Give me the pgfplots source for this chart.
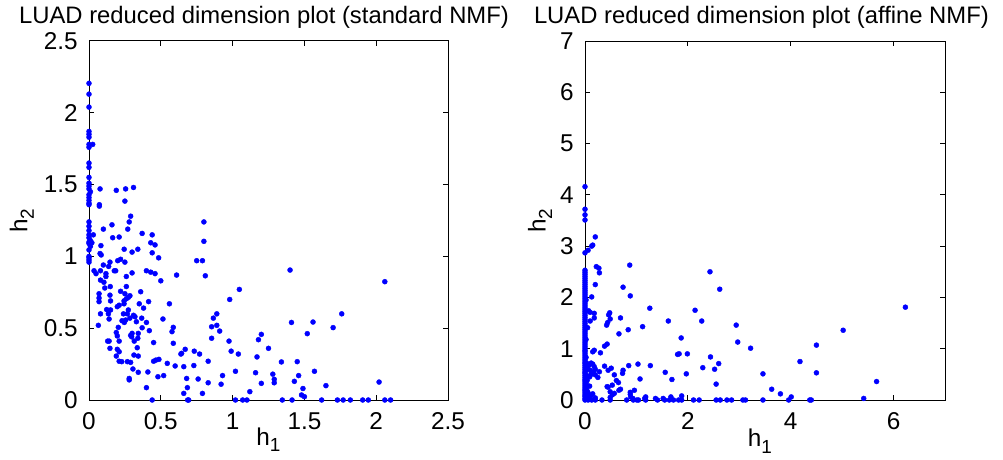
\documentclass[border=0pt]{standalone}
\usepackage{fontspec}
\setmainfont{Liberation Sans}
\usepackage{pgfplots}
\pgfplotsset{compat=1.18}

% Latent-factor coordinates (h1, h2) of the LUAD samples
\begin{document}
\fontsize{24.4}{28}\selectfont
\begin{tikzpicture}
\path[use as bounding box] (0,0) rectangle (1003bp,460bp);
\pgfplotsset{
  nmfaxis/.style={
    scale only axis, anchor=south west,
    tick align=inside, major tick length=5bp,
    axis line style={line width=1bp},
    every tick/.style={black, line width=1bp},
    tick label style={font=\fontsize{24.4}{28}\selectfont},
    /pgf/number format/assume math mode=true,
    xticklabel style={yshift=-4bp},
    yticklabel style={xshift=-3bp},
    label style={font=\fontsize{24.4}{28}\selectfont},
    title style={font=\fontsize{23.9}{28}\selectfont, anchor=center},
    clip=false,
  },
  dots/.style={only marks, mark=*, mark size=2.5bp, blue, mark options={draw=none, fill=blue}},
}
\newcommand{\hsub}[1]{h\raisebox{-0.5ex}{\fontsize{19}{20}\selectfont #1}}

\begin{axis}[nmfaxis, at={(89bp,60bp)}, width=359bp, height=359bp,
  xmin=0, xmax=2.5, ymin=0, ymax=2.5,
  xtick={0,0.5,1,1.5,2,2.5}, ytick={0,0.5,1,1.5,2,2.5},
  title={LUAD reduced dimension plot (standard NMF)},
  title style={at={(axis description cs:0.4875,1.05)}},
  xlabel={\hsub{1}}, ylabel={\hsub{2}},
  xlabel style={at={(axis description cs:0.5,-0.11)}, anchor=center},
  ylabel style={at={(axis description cs:-0.187,0.5)}, anchor=center, rotate=0},
]
\addplot[dots] table {
x y
0 2.205
0 2.13
0 2.04
0 1.87
0 1.85
0 1.83
0 1.78
0.026 1.78
0 1.76
0 1.65
0 1.62
0 1.55
0 1.51
0 1.49
0 1.47
0.01 1.45
0 1.43
0 1.41
0 1.39
0 1.37
0 1.36
0 1.24
0 1.21
0 1.18
0 1.15
0 1.13
0.01 1.11
0 1.10
0 1.09
0.01 1.07
0 1.045
0 1.0
0 0.99
0 0.975
0 0.96
0.077 1.47
0.19 1.46
0.255 1.47
0.31 1.48
0.25 1.385
0.072 1.36
0.072 1.35
0.29 1.28
0.28 1.24
0.16 1.22
0.10 1.19
0.27 1.19
0.03 1.15
0.165 1.13
0.21 1.135
0.37 1.16
0.44 1.15
0.80 1.24
0.80 1.105
0.43 1.095
0.46 1.08
0.083 1.075
0.02 1.095
0.34 1.05
0.245 1.05
0.30 1.03
0.44 1.025
0.077 1.02
0.085 1.01
0.485 0.99
0.75 0.97
0.79 0.97
0.22 0.98
0.20 0.97
0.25 0.96
0.146 0.96
0.10 0.94
0.137 0.93
0.186 0.90
0.176 0.90
0.035 0.90
0.049 0.88
0.08 0.90
0.118 0.88
0.118 0.86
0.30 0.885
0.40 0.90
0.43 0.89
0.46 0.88
0.61 0.87
0.26 0.86
0.81 0.865
0.50 0.83
0.08 0.835
0.104 0.82
0.26 0.79
0.148 0.79
0.11 0.78
0.22 0.757
0.36 0.754
1.047 0.77
0.07 0.74
0.146 0.73
0.25 0.74
0.285 0.726
0.274 0.715
0.26 0.705
0.07 0.71
0.07 0.685
0.15 0.69
0.244 0.69
0.244 0.67
0.98 0.70
0.35 0.67
0.38 0.64
0.415 0.685
0.56 0.67
0.21 0.66
0.197 0.65
0.123 0.63
0.15 0.627
0.135 0.60
0.08 0.60
0.274 0.627
0.267 0.60
0.24 0.60
0.31 0.59
0.89 0.60
0.866 0.57
0.14 0.564
0.32 0.58
0.285 0.57
0.33 0.545
0.23 0.552
0.255 0.557
0.246 0.54
0.515 0.564
0.367 0.57
0.40 0.54
0.065 0.52
0.854 0.51
0.89 0.52
0.204 0.506
0.37 0.503
0.587 0.506
0.578 0.476
0.42 0.483
0.30 0.464
0.29 0.45
0.297 0.44
0.19 0.47
0.197 0.446
0.21 0.41
0.343 0.464
0.34 0.43
0.91 0.48
1.20 0.457
1.18 0.42
0.854 0.43
0.975 0.41
0.13 0.41
0.14 0.41
0.587 0.395
0.45 0.40
0.315 0.41
0.146 0.36
0.197 0.353
0.21 0.336
0.19 0.306
0.336 0.364
0.67 0.353
0.645 0.325
0.64 0.32
0.733 0.34
0.77 0.32
0.99 0.34
1.04 0.32
1.25 0.36
0.313 0.313
0.343 0.306
1.17 0.30
0.466 0.278
0.487 0.283
0.45 0.27
0.21 0.27
0.228 0.267
0.267 0.267
0.29 0.262
0.545 0.255
0.83 0.27
0.60 0.237
0.66 0.232
0.73 0.24
0.306 0.216
0.343 0.193
0.41 0.195
0.52 0.17
0.48 0.162
1.02 0.20
1.16 0.19
1.28 0.18
1.29 0.144
1.29 0.12
0.93 0.17
0.28 0.15
0.28 0.14
0.68 0.15
0.76 0.146
0.83 0.12
0.92 0.11
1.20 0.116
0.40 0.086
0.685 0.086
1.12 0.058
0.66 0.046
0.79 0.046
0.44 0
0.687 0
0.694 0
1.02 0
1.07 0
1.10 0
1.40 0.905
2.06 0.824
1.76 0.60
1.41 0.54
1.56 0.543
1.70 0.504
1.52 0.462
1.34 0.265
1.45 0.267
1.57 0.20
1.46 0.17
1.43 0.13
2.02 0.125
1.65 0.10
1.49 0.08
1.48 0.035
1.50 0.023
1.346 0
1.414 0
1.62 0
1.73 0
1.77 0
1.82 0
1.906 0
1.945 0
2.06 0
2.10 0
};
\end{axis}

\begin{axis}[nmfaxis, at={(585bp,60bp)}, width=360bp, height=359bp,
  xmin=0, xmax=7, ymin=0, ymax=7,
  xtick={0,2,4,6}, ytick={0,1,2,3,4,5,6,7},
  title={LUAD reduced dimension plot (affine NMF)},
  title style={at={(axis description cs:0.49,1.05)}},
  xlabel={\hsub{1}}, ylabel={\hsub{2}},
  xlabel style={at={(axis description cs:0.486,-0.115)}, anchor=center},
  ylabel style={at={(axis description cs:-0.125,0.5)}, anchor=center, rotate=0},
]
\addplot[dots] table {
x y
0 0
0 0.03
0 0.07
0 0.10
0 0.14
0 0.18
0 0.21
0 0.25
0 0.29
0 0.33
0 0.37
0 0.40
0 0.44
0 0.48
0 0.52
0 0.55
0 0.59
0 0.63
0 0.67
0 0.71
0 0.74
0 0.78
0 0.82
0 0.86
0 0.90
0 0.94
0 0.97
0 1.01
0 1.05
0 1.09
0 1.13
0 1.17
0 1.21
0 1.25
0 1.29
0 1.33
0 1.37
0 1.41
0 1.45
0 1.49
0 1.53
0 1.57
0 1.61
0 1.65
0 1.69
0 1.73
0 1.77
0 1.81
0 1.85
0 1.89
0 1.93
0 1.97
0 2.01
0 2.05
0 2.09
0 2.13
0 2.17
0 2.21
0 2.25
0 2.29
0 2.33
0 2.37
0 2.41
0 2.45
0 2.49
0 2.53
0 2.87
0 3.51
0 3.61
0 3.72
0 4.16
0.02 0.12
0.02 0.36
0.02 0.58
0.02 0.83
0.02 1.18
0.02 1.95
0.06 2.92
0.20 3.18
0.15 3.02
0.13 3.00
0.22 2.60
0.27 2.57
0.28 2.48
0.87 2.63
0.20 2.25
0.74 2.20
0.13 2.01
0.88 2.03
2.43 2.50
2.62 2.16
1.26 1.79
2.14 1.75
0.07 1.74
0.10 1.71
0.18 1.69
0.18 1.60
0.10 1.54
0.48 1.70
0.46 1.66
0.49 1.58
0.44 1.51
0.42 1.46
0.69 1.60
1.62 1.54
2.27 1.54
2.94 1.46
1.12 1.43
0.05 1.41
0.84 1.37
0.66 1.29
1.87 1.21
2.97 1.13
0.43 1.09
0.38 1.05
3.22 1.01
0.18 0.97
0.15 0.94
0.30 0.92
1.83 0.90
1.80 0.89
1.99 0.90
2.44 0.84
0.03 0.72
0.12 0.72
0.08 0.68
0.15 0.70
0.05 0.62
0.20 0.60
0.18 0.65
0.10 0.58
0.17 0.55
0.12 0.50
0.05 0.47
0.38 0.66
0.51 0.62
0.45 0.58
0.85 0.67
1.03 0.70
1.27 0.67
0.74 0.58
0.73 0.52
2.29 0.63
2.52 0.60
2.60 0.71
1.56 0.54
1.97 0.51
3.46 0.51
0.28 0.55
0.20 0.49
0.25 0.44
0.57 0.49
0.61 0.38
0.65 0.34
1.07 0.41
1.69 0.40
0.09 0.45
0.04 0.38
0.03 0.30
0.53 0.29
0.43 0.26
2.55 0.31
0.45 0.25
0.09 0.27
0.02 0.22
0.04 0.18
0.69 0.21
0.66 0.19
0.96 0.19
0.88 0.15
0.88 0.11
0.49 0.16
0.57 0.13
0.53 0.10
3.63 0.21
0.06 0.14
0.15 0.12
0.11 0.08
0.05 0.05
0.89 0.06
1.18 0.06
1.67 0.06
1.88 0.08
0.20 0.04
0.49 0.05
0.93 0.03
1.16 0.03
1.37 0.03
1.52 0.03
3.80 0.12
4.01 0.06
4.18 0.75
4.50 1.07
4.50 0.53
5.02 1.36
6.23 1.81
5.67 0.36
5.42 0.03
0.06 0
0.13 0
0.20 0
0.33 0
0.49 0
0.81 0
0.94 0
1.01 0
1.04 0
1.18 0
1.41 0
1.55 0
1.64 0
1.72 0
1.82 0
1.88 0
2.11 0
2.22 0
2.55 0
2.63 0
2.76 0
2.85 0
3.07 0
3.12 0
3.46 0
3.96 0
4.37 0
4.40 0
};
\end{axis}
\end{tikzpicture}
\end{document}
